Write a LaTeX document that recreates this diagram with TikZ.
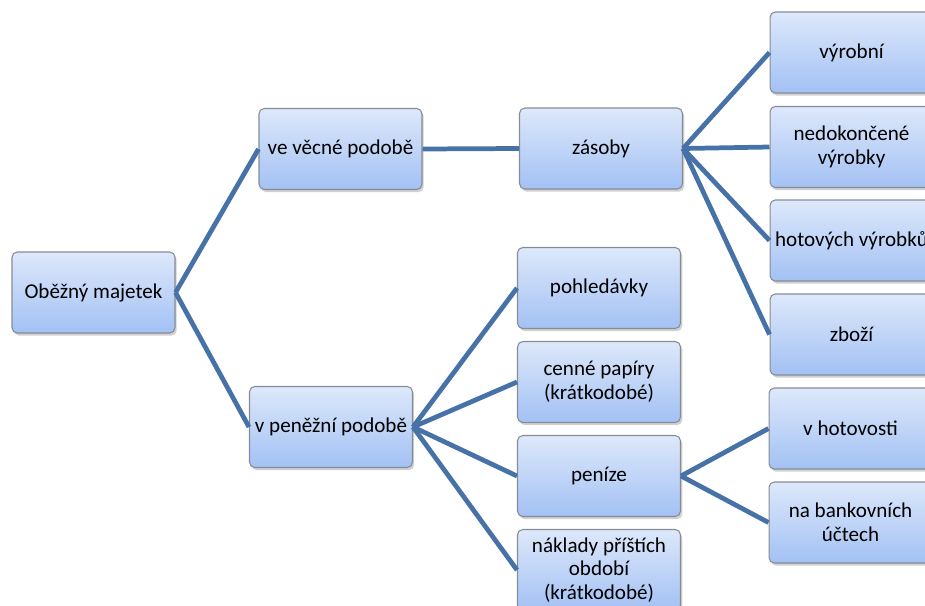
\documentclass[tikz,border=0pt]{standalone}
\usepackage{fontspec}
\setmainfont{Carlito}
\usetikzlibrary{shadows}

\definecolor{boxtop}{HTML}{DDE8FA}
\definecolor{boxbot}{HTML}{A3C1F4}
\definecolor{boxline}{HTML}{858C96}
\definecolor{linkblue}{HTML}{4672A8}

\tikzset{
  itembox/.style={draw=boxline, line width=0.6pt, rounded corners=3pt,
    top color=boxtop, bottom color=boxbot,
    drop shadow={shadow xshift=1pt, shadow yshift=-1.5pt, opacity=0.3, fill=black!60},
    minimum width=3.26cm, minimum height=1.62cm, inner sep=2pt, align=center,
    font=\fontsize{12pt}{13.4pt}\selectfont},
  link/.style={draw=linkblue, line width=2.7pt}
}

\begin{document}
\begin{tikzpicture}[x=0.02cm, y=-0.02cm]
  \useasboundingbox (0,0) rectangle (925,605);
  \node[itembox] (om) at (93.5,292.5) {Oběžný majetek};
  \node[itembox] (vec) at (340.5,149) {ve věcné podobě};
  \node[itembox] (pen) at (331,427) {v peněžní podobě};
  \node[itembox] (zas) at (601,148.5) {zásoby};
    \node[itembox] (vyr) at (851.5,52.5) {výrobní};
    \node[itembox] (ned) at (851.5,147) {nedokončené\\výrobky};
    \node[itembox] (hot) at (851.5,240.5) {hotových výrobků};
    \node[itembox] (zbo) at (851.5,334.5) {zboží};
  \node[itembox] (poh) at (599,288) {pohledávky};
  \node[itembox] (cen) at (599,382) {cenné papíry\\(krátkodobé)};
  \node[itembox] (pnz) at (599,476) {peníze};
  \node[itembox] (nak) at (599,570) {náklady příštích\\období\\(krátkodobé)};
    \node[itembox] (hov) at (850.5,428.5) {v hotovosti};
    \node[itembox] (ban) at (850.5,522.5) {na bankovních\\účtech};

  \draw[link] (om.east) -- (vec.west);
  \draw[link] (om.east) -- (pen.west);
  \draw[link] (vec.east) -- (zas.west);
  \draw[link] (zas.east) -- (vyr.west);
  \draw[link] (zas.east) -- (ned.west);
  \draw[link] (zas.east) -- (hot.west);
  \draw[link] (zas.east) -- (zbo.west);
  \draw[link] (pen.east) -- (poh.west);
  \draw[link] (pen.east) -- (cen.west);
  \draw[link] (pen.east) -- (pnz.west);
  \draw[link] (pen.east) -- (nak.west);
  \draw[link] (pnz.east) -- (hov.west);
  \draw[link] (pnz.east) -- (ban.west);
\end{tikzpicture}
\end{document}
